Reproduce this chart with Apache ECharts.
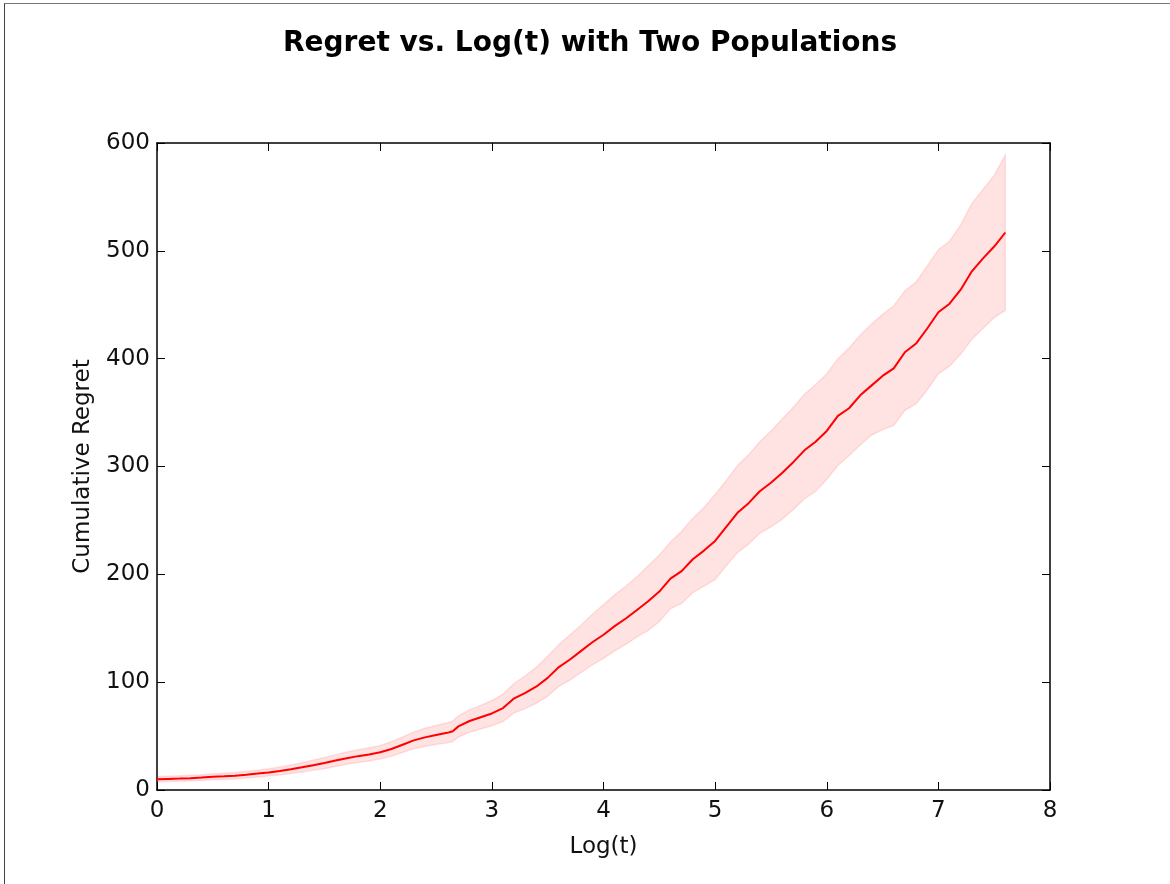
<!DOCTYPE html>
<html>
<head>
<meta charset="utf-8">
<script src="https://cdn.jsdelivr.net/npm/echarts@6/dist/echarts.min.js"></script>
<style>
  html, body { margin: 0; padding: 0; background: #fff; }
  #wrap { position: relative; width: 1170px; height: 884px; }
  #chart { position: absolute; left: 0; top: 0; width: 1170px; height: 884px; }
  #frame { position: absolute; left: 4px; top: 3px; right: 0; bottom: 0; border-left: 1px solid #444; border-top: 1px solid #777; pointer-events: none; }
</style>
</head>
<body>
<div id="wrap"><div id="chart"></div><div id="frame"></div></div>
<script>
const titleText = 'Regret vs. Log(t) with Two Populations';
const xName = 'Log(t)';
const yName = 'Cumulative Regret';

const logT = [0.0,0.1,0.2,0.3,0.4,0.5,0.6,0.7,0.8,0.9,1.0,1.1,1.2,1.3,1.4,1.5,1.6,1.7,1.8,1.9,
  2.0,2.1,2.2,2.3,2.4,2.5,2.6,2.65,2.7,2.8,2.9,3.0,3.1,3.2,3.3,3.4,3.5,3.6,3.7,3.8,3.9,
  4.0,4.1,4.2,4.3,4.4,4.5,4.6,4.7,4.8,4.9,5.0,5.1,5.2,5.3,5.4,5.5,5.6,5.7,5.8,5.9,
  6.0,6.1,6.2,6.3,6.4,6.5,6.6,6.7,6.8,6.9,7.0,7.1,7.2,7.3,7.4,7.5,7.6];

const meanRegret = [10,10.3,10.6,11,11.5,12.2,12.7,13.3,14.2,15.2,16.3,17.6,19.2,21,23,25,27.3,29.5,31.4,33,
  35,38,42,46,48.8,51,53,54.5,59,64,67.5,71,76,85,90,96,104,114,121,129,137,
  144,152,159,167,175,184,196,203,214,222,231,244,257,266,277,285,294,304,315,323,
  333,347,354,366,375,384,391,406,414,428,443,451,464,481,493,504,517];

const upperRegret = [12.5,12.8,13.1,13.6,14.2,15,15.6,16.3,17.3,18.4,19.7,21.3,23.2,25.4,27.8,30.2,32.8,35.2,37.4,39.2,
  41.3,44.8,49.3,53.8,57.3,59.8,62.3,64,68.8,74.5,78.5,83,89,99,106,114,124,135,144,153,163,
  172,181,189,198,208,218,230,240,252,262,274,287,301,311,323,333,344,355,367,376,
  386,400,410,422,432,441,449,463,471,486,501,509,524,544,557,570,589];

const lowerRegret = [7.5,7.8,8.1,8.4,8.8,9.4,9.8,10.3,11.1,12,12.9,13.9,15.2,16.6,18.2,19.8,21.8,23.8,25.4,26.8,
  28.7,31.2,34.7,38.2,40.3,42.2,43.7,45,49.2,53.5,56.5,59.5,63.5,71.5,75.5,80.5,87,96,102,109,116,
  122,129,135,142,148,156,168,173,183,189,195,208,220,228,238,244,251,260,270,277,
  288,301,310,320,329,334,338,352,358,371,386,393,404,418,428,438,445];

const meanData = logT.map((x, i) => [x, meanRegret[i]]);
const bandData = logT.map((x, i) => [x, lowerRegret[i], upperRegret[i]]);

const chart = echarts.init(document.getElementById('chart'), null, { renderer: 'canvas' });
const font = 'DejaVu Sans';
const mkLine = () => ({ show: true, onZero: false, lineStyle: { color: '#000', width: 1.5 } });
const mkTick = () => ({ show: true, inside: true, length: 8, lineStyle: { color: '#000', width: 1 } });
const mkLabel = (show, margin) => ({ show: show, inside: false, fontFamily: font, fontSize: 23, color: '#111', margin: margin });

chart.setOption({
  animation: false,
  backgroundColor: '#fff',
  title: {
    text: titleText, left: 278, top: 25,
    textStyle: { fontFamily: font, fontSize: 28, fontWeight: 'bold', color: '#000' }
  },
  grid: { left: 157, right: 120, top: 143, bottom: 94, containLabel: false },
  xAxis: [{
    type: 'value', min: 0, max: 8, interval: 1, position: 'bottom',
    name: xName, nameLocation: 'middle', nameGap: 46,
    nameTextStyle: { fontFamily: font, fontSize: 23, color: '#111' },
    axisLine: mkLine(), axisTick: mkTick(), splitLine: { show: false },
    axisLabel: mkLabel(true, 10)
  }, {
    type: 'value', min: 0, max: 8, interval: 1, position: 'top',
    axisLine: mkLine(), axisTick: mkTick(), splitLine: { show: false }, axisLabel: mkLabel(false, 8)
  }],
  yAxis: [{
    type: 'value', min: 0, max: 600, interval: 100, position: 'left',
    name: yName, nameLocation: 'middle', nameGap: 62, nameRotate: 90,
    nameTextStyle: { fontFamily: font, fontSize: 23, color: '#111' },
    axisLine: mkLine(), axisTick: mkTick(), splitLine: { show: false },
    axisLabel: mkLabel(true, 7)
  }, {
    type: 'value', min: 0, max: 600, interval: 100, position: 'right',
    axisLine: mkLine(), axisTick: mkTick(), splitLine: { show: false }, axisLabel: mkLabel(false, 8)
  }],
  series: [
    {
      name: 'band', type: 'custom', data: bandData, silent: true, z: 1,
      xAxisIndex: 0, yAxisIndex: 0,
      encode: { x: 0, y: [1, 2] },
      renderItem: function (params, api) {
        if (params.dataIndex !== 0) return null;
        const top = [], bot = [];
        for (let i = 0; i < bandData.length; i++) {
          top.push(api.coord([bandData[i][0], bandData[i][2]]));
          bot.push(api.coord([bandData[i][0], bandData[i][1]]));
        }
        const pts = top.concat(bot.reverse());
        return {
          type: 'polygon',
          shape: { points: pts },
          style: { fill: 'rgba(255,0,0,0.115)', stroke: 'rgba(255,0,0,0.10)', lineWidth: 1.5 }
        };
      }
    },
    {
      name: 'mean', type: 'line', data: meanData, symbol: 'none',
      xAxisIndex: 0, yAxisIndex: 0,
      lineStyle: { color: '#ff0000', width: 2 }, z: 3
    }
  ]
});
</script>
</body>
</html>
